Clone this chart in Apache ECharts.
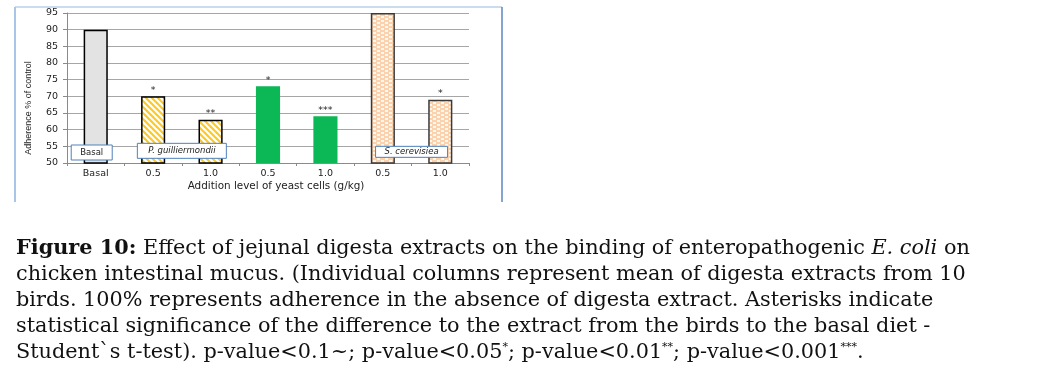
<!DOCTYPE html>
<html>
<head>
<meta charset="utf-8">
<script src="https://cdn.jsdelivr.net/npm/echarts@6/dist/echarts.min.js"></script>
<style>
html,body{margin:0;padding:0;background:#fff;}
#c{width:1058px;height:389px;}
</style>
</head>
<body>
<div id="c"></div>
<script>
// ---- data ----
const categories = ['Basal', '0.5', '1.0', '0.5', '1.0', '0.5', '1.0'];
const values = [90, 70, 63, 73, 64, 95, 69];
const significance = ['', '*', '**', '*', '***', '', '*'];
const groups = ['basal', 'pg', 'pg', 'green', 'green', 'sc', 'sc'];
const yMin = 50, yMax = 95, yStep = 5;
const yAxisTitle = 'Adherence % of control';
const xAxisTitle = 'Addition level of yeast cells (g/kg)';
const groupBoxes = [
  {text: 'Basal', italic: false, from: 0, to: 0},
  {text: 'P. guilliermondii', italic: true, from: 1, to: 2},
  {text: 'S. cerevisiea', italic: true, from: 5, to: 6}
];
const captionLines = [
  '{b|Figure 10:} Effect of jejunal digesta extracts on the binding of enteropathogenic {i|E. coli} on',
  'chicken intestinal mucus. (Individual columns represent mean of digesta extracts from 10',
  'birds. 100% represents adherence in the absence of digesta extract. Asterisks indicate',
  'statistical significance of the difference to the extract from the birds to the basal diet -',
  'Student`s t-test). p-value<0.1~; p-value<0.05{s|*}; p-value<0.01{s|**}; p-value<0.001{s|***}.'
];

// ---- patterns ----
function stripePattern() {
  const c = document.createElement('canvas');
  c.width = 6; c.height = 6;
  const g = c.getContext('2d');
  g.fillStyle = '#ffffff'; g.fillRect(0, 0, 6, 6);
  g.strokeStyle = '#ffc823'; g.lineWidth = 2.2;
  for (let k = -6; k <= 6; k += 6) {
    g.beginPath(); g.moveTo(k - 1, -1); g.lineTo(k + 7, 7); g.stroke();
  }
  return c;
}
function dashPattern() {
  const c = document.createElement('canvas');
  c.width = 8; c.height = 4;
  const g = c.getContext('2d');
  g.fillStyle = '#fff6ee'; g.fillRect(0, 0, 8, 4);
  g.fillStyle = '#fbd2ae';
  g.fillRect(0, 0, 5, 2);
  g.fillRect(4, 2, 5, 2); g.fillRect(-4, 2, 5, 2);
  return c;
}
const styles = {
  basal: {color: '#e3e3e3', borderColor: '#000', borderWidth: 1.5},
  pg: {color: {image: stripePattern(), repeat: 'repeat'}, borderColor: '#000', borderWidth: 1.5},
  green: {color: '#0cb755', borderColor: '#0cb755', borderWidth: 0},
  sc: {color: {image: dashPattern(), repeat: 'repeat'}, borderColor: '#3a3a3a', borderWidth: 1.5}
};

const chart = echarts.init(document.getElementById('c'), null, {renderer: 'canvas'});
const axisFont = 'DejaVu Sans';

const option = {
  animation: false,
  backgroundColor: '#fff',
  grid: {left: 67, right: 589, top: 13, bottom: 226, containLabel: false},
  xAxis: {
    type: 'category',
    data: categories,
    axisLine: {lineStyle: {color: '#8a8a8a', width: 1}},
    axisTick: {show: true, length: 3, lineStyle: {color: '#8a8a8a'}},
    axisLabel: {fontFamily: axisFont, fontSize: 9.5, color: '#222', margin: 6}
  },
  yAxis: {
    type: 'value', min: yMin, max: yMax, interval: yStep,
    axisLine: {show: true, lineStyle: {color: '#8a8a8a', width: 1}},
    axisTick: {show: true, length: 4, lineStyle: {color: '#8a8a8a'}},
    axisLabel: {fontFamily: axisFont, fontSize: 9.5, color: '#222', margin: 9},
    splitLine: {lineStyle: {color: '#a6a6a6', width: 1}}
  },
  series: [{
    type: 'bar',
    barWidth: '42%',
    data: values.map((v, i) => ({
      value: v,
      itemStyle: styles[groups[i]],
      label: {show: !!significance[i], formatter: significance[i]}
    })),
    label: {position: 'top', distance: 1, fontFamily: axisFont, fontSize: 9.5, color: '#222'}
  }]
};
chart.setOption(option);

// ---- annotations ----
const graphics = [];
// frame
graphics.push({type: 'line', shape: {x1: 15, y1: 7, x2: 502, y2: 7}, style: {stroke: '#b9d0ea', lineWidth: 1.5}});
graphics.push({type: 'line', shape: {x1: 15, y1: 7, x2: 15, y2: 202}, style: {stroke: '#a9c6e6', lineWidth: 2}});
graphics.push({type: 'line', shape: {x1: 502, y1: 7, x2: 502, y2: 202}, style: {stroke: '#5b87c0', lineWidth: 1.5}});

function px(cat, val) { return chart.convertToPixel({gridIndex: 0}, [cat, val]); }
const boxDims = [
  {w: 41, h: 15, dx: -4, top: 55.4},
  {w: 89, h: 15, dx: 0, top: 55.9},
  {w: 72, h: 11, dx: 0, top: 55.0}
];
groupBoxes.forEach((b, k) => {
  const p1 = px(b.from, yMin), p2 = px(b.to, yMin);
  const cx = (p1[0] + p2[0]) / 2 + boxDims[k].dx;
  const top = px(b.from, boxDims[k].top)[1];
  graphics.push({
    type: 'rect', shape: {x: cx - boxDims[k].w / 2, y: top, width: boxDims[k].w, height: boxDims[k].h},
    style: {fill: '#fff', stroke: '#4f81bd', lineWidth: 1}, z: 100
  });
  graphics.push({
    type: 'text', x: cx, y: top + boxDims[k].h / 2, z: 101,
    style: {text: b.text, fontFamily: axisFont, fontSize: 8.5, fontStyle: b.italic ? 'italic' : 'normal',
      fill: '#222', align: 'center', verticalAlign: 'middle'}
  });
});
// axis titles
graphics.push({
  type: 'text', x: 29, y: 108, rotation: Math.PI / 2,
  style: {text: yAxisTitle, fontFamily: 'Liberation Sans', fontSize: 9, fill: '#222', align: 'center', verticalAlign: 'middle'}
});
graphics.push({
  type: 'text', x: 276, y: 186,
  style: {text: xAxisTitle, fontFamily: axisFont, fontSize: 10.4, fill: '#222', align: 'center', verticalAlign: 'middle'}
});
// caption
const capFont = 'DejaVu Serif';
const capSize = 20.8;
captionLines.forEach((line, i) => {
  graphics.push({
    type: 'text', x: 16, y: 259 + i * 26,
    style: {
      text: line, fontFamily: capFont, fontSize: capSize, fill: '#111', align: 'left', verticalAlign: 'bottom',
      rich: {
        b: {fontFamily: capFont, fontSize: capSize, fontWeight: 'bold', fill: '#111'},
        i: {fontFamily: capFont, fontSize: capSize, fontStyle: 'italic', fill: '#111'},
        s: {fontFamily: capFont, fontSize: 11, fill: '#111', verticalAlign: 'top'}
      }
    }
  });
});
chart.setOption({graphic: graphics});
</script>
</body>
</html>
